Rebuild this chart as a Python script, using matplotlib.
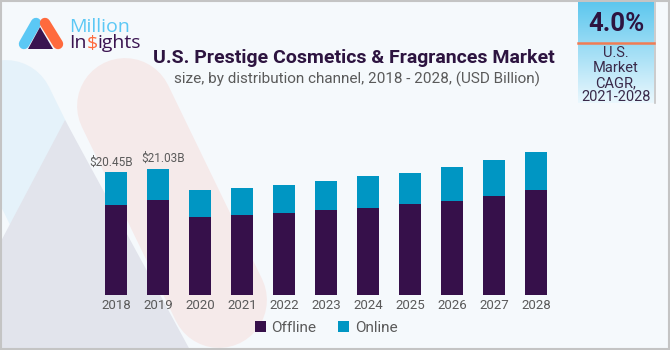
import numpy as np
import matplotlib.pyplot as plt
from matplotlib.patches import Polygon, Rectangle

# data (USD Billion)
years = ['2018', '2019', '2020', '2021', '2022', '2023', '2024', '2025', '2026', '2027', '2028']
offline = [15.00, 15.83, 12.95, 13.33, 13.67, 14.17, 14.55, 15.22, 15.67, 16.55, 17.55]
online = [5.45, 5.20, 4.50, 4.55, 4.71, 4.83, 5.23, 5.16, 5.61, 5.95, 6.23]
value_labels = {0: '$20.45B', 1: '$21.03B'}
cagr = '4.0%'

OFF_C = '#36104a'
ON_C = '#0096c3'
DARK = '#2d1440'
GREY_T = '#5a5a5a'
FONT = 'Roboto'

W, H = 670, 350
fig = plt.figure(figsize=(W / 100, H / 100), dpi=100)
fig.patch.set_facecolor('#f5f9fc')

# background layer in pixel coordinates
bg = fig.add_axes([0, 0, 1, 1])
bg.set_xlim(0, W)
bg.set_ylim(H, 0)
bg.axis('off')

# faint big logo shapes
bg.plot([6, 120], [108, 340], color='#e5f2fa', lw=69, solid_capstyle='round', zorder=0)
bg.plot([125, 219], [106, 300], color='#f5eaea', lw=69, solid_capstyle='round', zorder=0)
bg.add_patch(Polygon([(0, 243), (65, 120), (190, 350), (0, 350)], closed=True,
                     facecolor='#e2e4ec', edgecolor='none', zorder=1))
bg.add_patch(Rectangle((1, 1), W - 2.5, H - 2.5, fill=False, edgecolor='#c4c4c4', lw=1.5, zorder=5))

# logo
bg.plot([24, 36], [44, 23], color='#5bc8f5', lw=7.5, solid_capstyle='round', zorder=3)
bg.plot([45, 58], [23, 44], color='#ff6a3d', lw=7.5, solid_capstyle='round', zorder=3)
bg.add_patch(Polygon([(28, 49), (40, 27), (53, 49)], closed=True, facecolor='#3a1450', zorder=4))
bg.text(69, 26.5, 'Million', color='#5bc8f5', fontsize=14, family='Open Sans', va='center', ha='left')
r = fig.canvas.get_renderer()
x0 = 69
for part, col in [('In', '#3a1450'), ('$', '#ff6a3d'), ('ights', '#3a1450')]:
    t = bg.text(x0, 43.5, part, color=col, fontsize=14, family='Open Sans', va='center', ha='left')
    bb = t.get_window_extent(renderer=r)
    x0 += bb.width

# titles
bg.text(354, 58, 'U.S. Prestige Cosmetics & Fragrances Market', color=DARK, fontsize=14,
        fontweight='bold', family=FONT, ha='center', va='center')
bg.text(357, 79, 'size, by distribution channel, 2018 - 2028, (USD Billion)', color=GREY_T,
        fontsize=11, family=FONT, ha='center', va='center')

# CAGR box with gradient
grad = np.linspace(0, 1, 100).reshape(-1, 1)
top = np.array([0x5a, 0xc6, 0xee]) / 255
bot = np.array([0xea, 0xf7, 0xfd]) / 255
img = top + (bot - top) * grad[..., None]
bg.imshow(img, extent=(578, 654, 103, 0), aspect='auto', zorder=2)
bg.plot([655, 655], [0, 103], color='#c4c4c4', lw=1.2, zorder=3)
bg.plot([578, 654], [43, 43], color='#f07c54', lw=1.8, zorder=3)
bg.text(616, 24, cagr, color=DARK, fontsize=18.5, fontweight='bold', family=FONT,
        ha='center', va='center', zorder=4)
for yy, s in zip([53, 68, 83, 97], ['U.S.', 'Market', 'CAGR,', '2021-2028']):
    bg.text(616, yy, s, color='#3a2a4a', fontsize=10.5, family=FONT, ha='center', va='center', zorder=4)

# main bar chart
ax = fig.add_axes([95 / W, 1 - 295 / H, 462 / W, 150 / H])
ax.patch.set_alpha(0)
x = np.arange(len(years))
ax.bar(x, offline, width=0.53, color=OFF_C, label='Offline')
ax.bar(x, online, width=0.53, bottom=offline, color=ON_C, label='Online')
label_shift = {0: -3.5, 1: 3.5}
for i, s in value_labels.items():
    ax.annotate(s, (x[i], offline[i] + online[i]), xytext=(label_shift[i], 7.5),
                textcoords='offset points', ha='center', va='center', color=GREY_T,
                fontsize=8.5, family=FONT)
ax.set_xlim(-0.5, len(years) - 0.5)
ax.set_ylim(0, 25)
ax.set_xticks(x)
ax.set_xticklabels(years, color=GREY_T, fontsize=9.5, family=FONT)
ax.tick_params(axis='x', length=0, pad=3)
ax.set_yticks([])
for sp in ax.spines.values():
    sp.set_visible(False)

leg = fig.legend(loc='center', bbox_to_anchor=(326 / W, 1 - 328 / H), ncol=2, frameon=False,
                 handlelength=0.75, handleheight=0.75, handletextpad=0.35, columnspacing=1.4,
                 prop={'family': FONT, 'size': 11})
for t in leg.get_texts():
    t.set_color(GREY_T)

fig.savefig('out.png', dpi=100, facecolor=fig.get_facecolor())
